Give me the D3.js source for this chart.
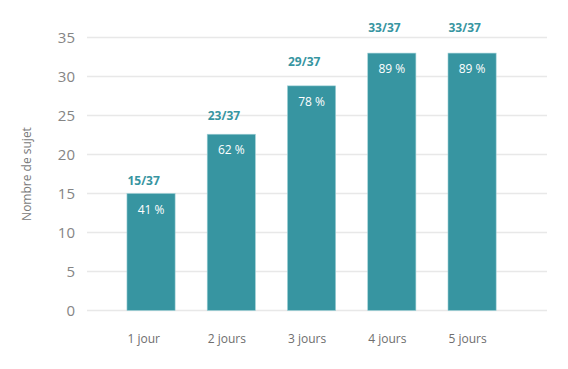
<!DOCTYPE html>
<html><head><meta charset="utf-8">
<script src="https://cdn.jsdelivr.net/npm/d3@7/dist/d3.min.js"></script>
<style>body{margin:0;background:#fff}svg{display:block}text{font-family:"Open Sans",sans-serif}</style>
</head><body><svg id="c" width="568" height="369"></svg>
<script>
const categories = ["1 jour","2 jours","3 jours","4 jours","5 jours"];
const barValues = [15, 22.6, 28.8, 33, 33];
const countLabels = ["15/37","23/37","29/37","33/37","33/37"];
const countLabelLevels = [16.1, 24.4, 31.3, 35.7, 35.7];
const percentLabels = ["41 %","62 %","78 %","89 %","89 %"];
const yTicks = [0,5,10,15,20,25,30,35];
const yTitle = "Nombre de sujet";

const svg = d3.select("#c");
const y = d3.scaleLinear().domain([0,35]).range([310.5,37.5]);
const x = d3.scaleBand().domain(categories).range([110.9,512.2]).paddingInner(0.4).paddingOuter(0.2);
const gridX0 = 87, gridX1 = 547;
const teal = "#3795a1";

svg.append("g").selectAll("line").data(yTicks).join("line")
  .attr("x1",gridX0).attr("x2",gridX1)
  .attr("y1",d=>y(d)).attr("y2",d=>y(d))
  .attr("stroke","#e8e8e8").attr("stroke-width",1.5);

svg.append("g").selectAll("text").data(yTicks).join("text")
  .attr("x",75).attr("y",d=>y(d)+5.5).attr("text-anchor","end")
  .attr("font-size",15).attr("fill","#858585").text(d=>d);

svg.append("text").attr("transform","translate(31,174) rotate(-90)")
  .attr("text-anchor","middle").attr("font-size",12).attr("fill","#7a7a7a").text(yTitle);

const bars = svg.append("g").selectAll("g").data(categories).join("g");
bars.append("rect")
  .attr("x",d=>x(d)).attr("width",x.bandwidth())
  .attr("y",(d,i)=>y(barValues[i])).attr("height",(d,i)=>y(0)-y(barValues[i]))
  .attr("fill",teal).attr("stroke","#9fd0d6").attr("stroke-width",0.6);
bars.append("text")
  .attr("x",d=>x(d)+x.bandwidth()/2).attr("y",(d,i)=>y(barValues[i])+20)
  .attr("text-anchor","middle").attr("font-size",12).attr("fill","#fff")
  .text((d,i)=>percentLabels[i]);
bars.append("text")
  .attr("x",d=>x(d)+0.5).attr("y",(d,i)=>y(countLabelLevels[i]))
  .attr("text-anchor","start").attr("font-size",12).attr("font-weight","bold").attr("fill",teal)
  .text((d,i)=>countLabels[i]);
bars.append("text")
  .attr("x",d=>x(d)+0.5).attr("y",343)
  .attr("text-anchor","start").attr("font-size",12).attr("fill","#6e6e6e")
  .text(d=>d);
</script></body></html>
